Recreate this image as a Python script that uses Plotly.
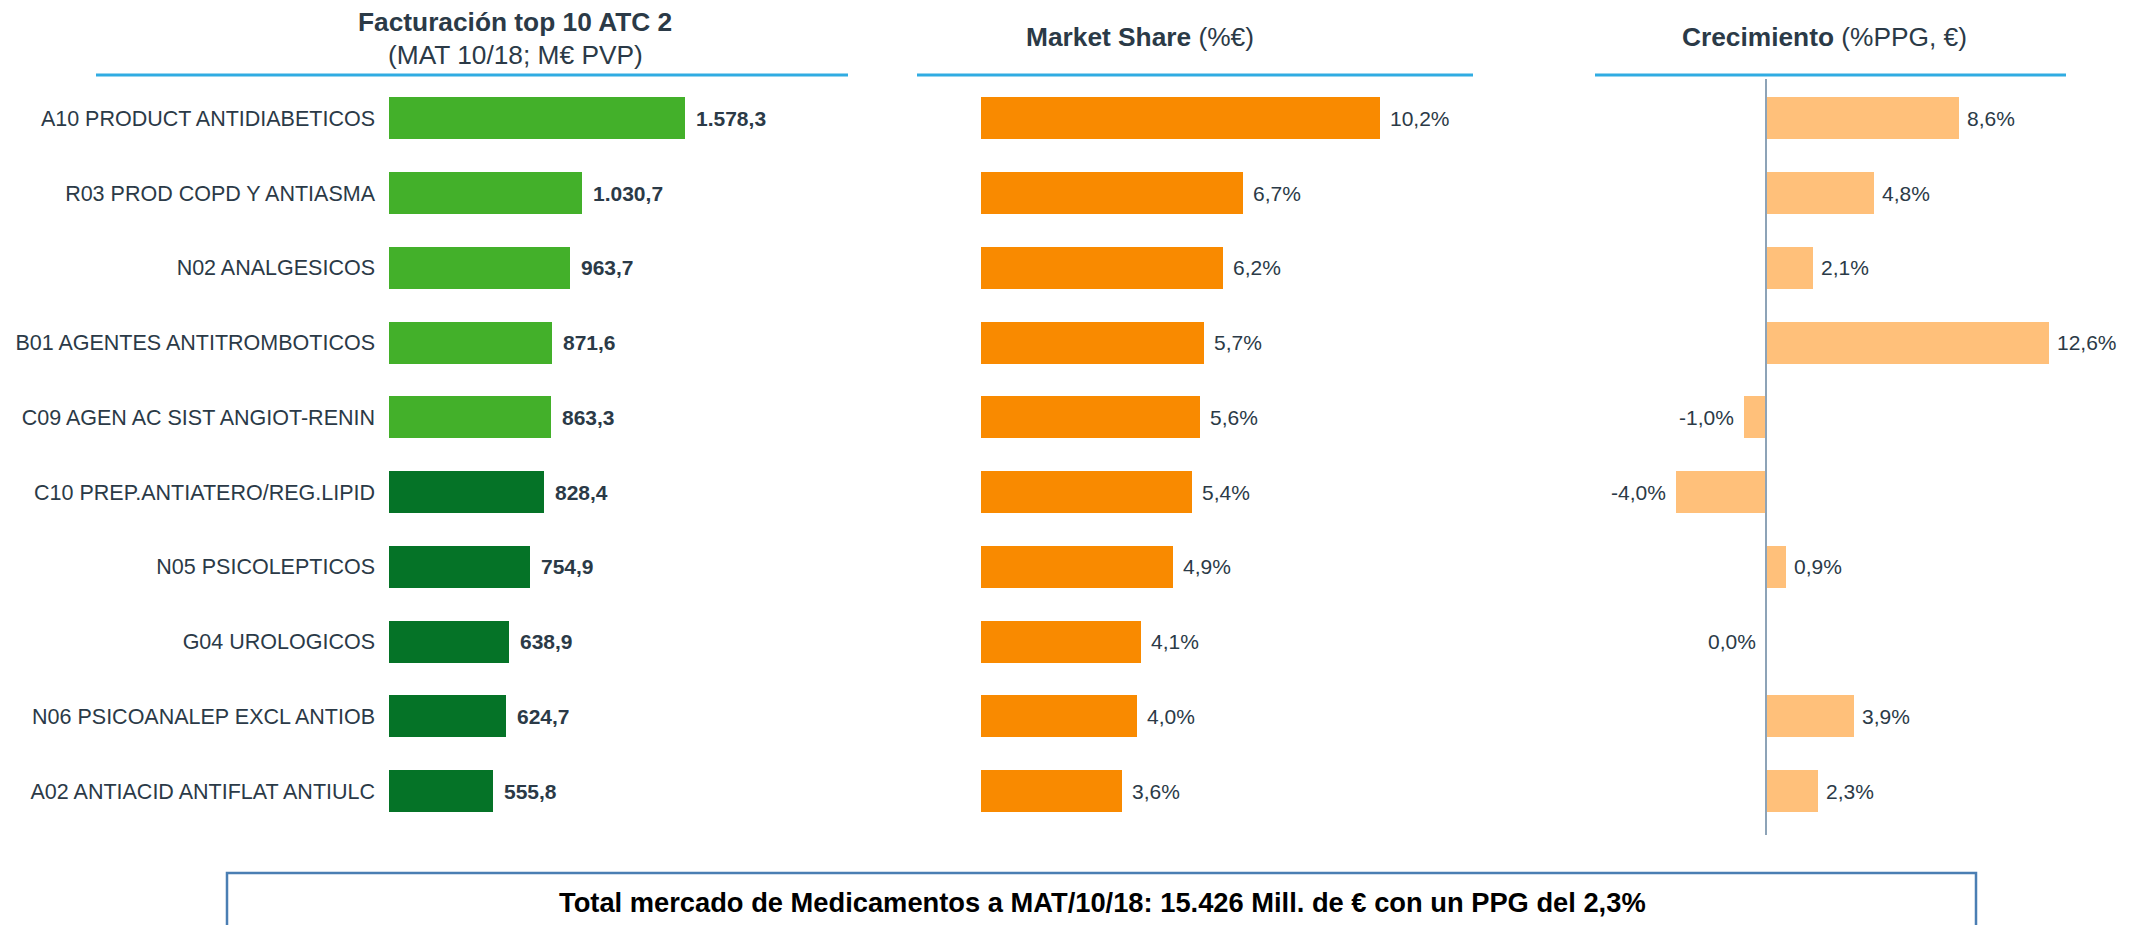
import plotly.graph_objects as go

# ---------------- data ----------------
categorias = [
    "A10 PRODUCT ANTIDIABETICOS",
    "R03 PROD COPD Y ANTIASMA",
    "N02 ANALGESICOS",
    "B01 AGENTES ANTITROMBOTICOS",
    "C09 AGEN AC SIST ANGIOT-RENIN",
    "C10 PREP.ANTIATERO/REG.LIPID",
    "N05 PSICOLEPTICOS",
    "G04 UROLOGICOS",
    "N06 PSICOANALEP EXCL ANTIOB",
    "A02 ANTIACID ANTIFLAT ANTIULC",
]
facturacion = [1578.3, 1030.7, 963.7, 871.6, 863.3, 828.4, 754.9, 638.9, 624.7, 555.8]
market_share = [10.2, 6.7, 6.2, 5.7, 5.6, 5.4, 4.9, 4.1, 4.0, 3.6]
crecimiento = [8.6, 4.8, 2.1, 12.6, -1.0, -4.0, 0.9, 0.0, 3.9, 2.3]

titulo1 = "Facturación top 10 ATC 2"
subtitulo1 = "(MAT 10/18; M€ PVP)"
titulo2_b, titulo2_r = "Market Share", "(%€)"
titulo3_b, titulo3_r = "Crecimiento", "(%PPG, €)"
nota = "Total mercado de Medicamentos a MAT/10/18: 15.426 Mill. de € con un PPG del 2,3%"

# ---------------- styles ----------------
OFF = 8  # page body margin
W, H = 2131 - OFF, 925 - OFF
FONT = "Liberation Sans, Arial, sans-serif"
TXT = "#2B3A47"
GREEN_L, GREEN_D = "#43B02A", "#057327"
ORANGE, ORANGE_L = "#F98A00", "#FFC07A"
BLUE_LINE = "#30ACE2"
BOX = "#4A7EB3"
colores1 = [GREEN_L] * 5 + [GREEN_D] * 5


def fmt_es(v, dec=1):
    s = f"{v:,.{dec}f}"
    return s.replace(",", "X").replace(".", ",").replace("X", ".")


def px(xp):
    return (xp - OFF) / W


def py(yp):
    return (H - (yp - OFF)) / H


fig = go.Figure()
BW = 0.56
fig.add_trace(go.Bar(x=facturacion, y=categorias, orientation="h", width=BW,
                     marker=dict(color=colores1, line=dict(width=0)),
                     xaxis="x", yaxis="y", hoverinfo="skip"))
fig.add_trace(go.Bar(x=market_share, y=categorias, orientation="h", width=BW,
                     marker=dict(color=ORANGE, line=dict(width=0)),
                     xaxis="x2", yaxis="y", hoverinfo="skip"))
fig.add_trace(go.Bar(x=crecimiento, y=categorias, orientation="h", width=BW,
                     marker=dict(color=ORANGE_L, line=dict(width=0)),
                     xaxis="x3", yaxis="y", hoverinfo="skip"))

ann = []
for c, v in zip(categorias, facturacion):
    ann.append(dict(x=v, y=c, xref="x", yref="y", text=f"<b>{fmt_es(v)}</b>",
                    xanchor="left", xshift=9, showarrow=False,
                    font=dict(size=21, color=TXT, family=FONT)))
for c, v in zip(categorias, market_share):
    ann.append(dict(x=v, y=c, xref="x2", yref="y", text=f"{fmt_es(v)}%",
                    xanchor="left", xshift=8, showarrow=False,
                    font=dict(size=21, color=TXT, family=FONT)))
for c, v in zip(categorias, crecimiento):
    pos = v > 0
    ann.append(dict(x=v, y=c, xref="x3", yref="y", text=f"{fmt_es(v)}%",
                    xanchor="left" if pos else "right", xshift=6 if pos else -8,
                    showarrow=False, font=dict(size=21, color=TXT, family=FONT)))

# titles
ann += [
    dict(x=px(515), y=py(22), xref="paper", yref="paper", text=f"<b>{titulo1}</b>",
         showarrow=False, xanchor="center", yanchor="middle",
         font=dict(size=26.3, color=TXT, family=FONT)),
    dict(x=px(515), y=py(55), xref="paper", yref="paper", text=subtitulo1,
         showarrow=False, xanchor="center", yanchor="middle",
         font=dict(size=26.3, color=TXT, family=FONT)),
    dict(x=px(1140), y=py(37), xref="paper", yref="paper",
         text=f"<b>{titulo2_b}</b> {titulo2_r}", showarrow=False,
         xanchor="center", yanchor="middle", font=dict(size=26.3, color=TXT, family=FONT)),
    dict(x=px(1824), y=py(37), xref="paper", yref="paper",
         text=f"<b>{titulo3_b}</b> {titulo3_r}", showarrow=False,
         xanchor="center", yanchor="middle", font=dict(size=26.3, color=TXT, family=FONT)),
    dict(x=px(1102), y=py(902), xref="paper", yref="paper", text=f"<b>{nota}</b>",
         showarrow=False, xanchor="center", yanchor="middle",
         font=dict(size=27.3, color="#000000", family=FONT)),
]

shapes = [
    dict(type="line", xref="paper", yref="paper", x0=px(96), x1=px(848), y0=py(75), y1=py(75),
         line=dict(color=BLUE_LINE, width=3)),
    dict(type="line", xref="paper", yref="paper", x0=px(917), x1=px(1473), y0=py(75), y1=py(75),
         line=dict(color=BLUE_LINE, width=3)),
    dict(type="line", xref="paper", yref="paper", x0=px(1595), x1=px(2066), y0=py(75), y1=py(75),
         line=dict(color=BLUE_LINE, width=3)),
    dict(type="line", xref="x3", yref="paper", x0=0, x1=0, y0=py(835), y1=py(79),
         line=dict(color="#8DA3B7", width=2)),
    dict(type="rect", xref="paper", yref="paper", x0=px(227), x1=px(1976), y0=-0.1, y1=py(873),
         line=dict(color=BOX, width=2.5), fillcolor="rgba(0,0,0,0)"),
]

y_top, y_bot = 80.9, 828.4
fig.update_layout(
    width=W, height=H,
    margin=dict(l=0, r=0, t=0, b=0),
    paper_bgcolor="white", plot_bgcolor="white",
    showlegend=False, bargap=0,
    font=dict(family=FONT, color=TXT),
    xaxis=dict(domain=[px(389), px(849)], range=[0, 460 / 0.1873], visible=False,
               anchor="y"),
    xaxis2=dict(domain=[px(981), px(1473)], range=[0, 492 / 39.1], visible=False,
                anchor="y"),
    xaxis3=dict(domain=[px(1595), px(2066)], range=[-171 / 22.45, 300 / 22.45],
                visible=False, anchor="y"),
    yaxis=dict(domain=[py(y_bot), py(y_top)], type="category",
               categoryorder="array", categoryarray=categorias,
               range=[9.5, -0.5], anchor="x", showline=False, showgrid=False,
               zeroline=False, ticks="", ticklabelstandoff=13,
               tickfont=dict(size=21.5, color=TXT, family=FONT)),
    annotations=ann,
    shapes=shapes,
)

fig.write_html("out.html")
